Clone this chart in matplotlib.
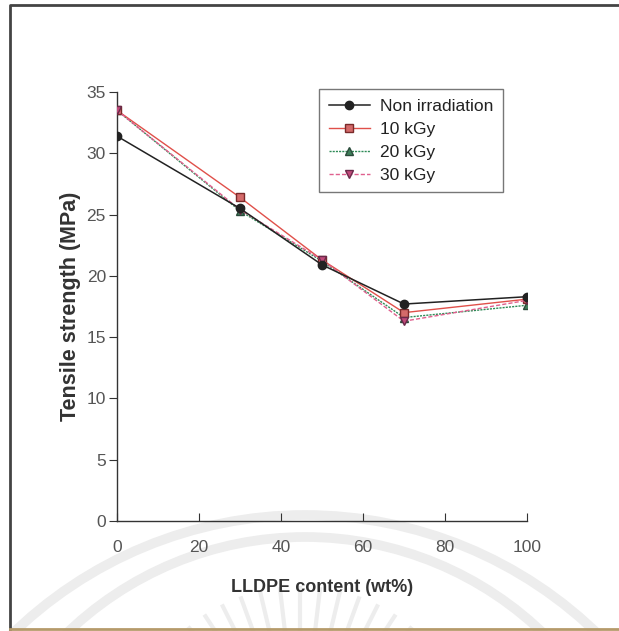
import numpy as np
import matplotlib
matplotlib.use("Agg")
import matplotlib.pyplot as plt
from matplotlib.patches import Arc
from matplotlib.lines import Line2D

plt.rcParams['font.family'] = ['Liberation Sans', 'DejaVu Sans']

# LLDPE content (wt%)
lldpe = [0, 30, 50, 70, 100]

# Tensile strength (MPa)
non_irr = [31.4, 25.5, 20.9, 17.7, 18.3]
kgy10 = [33.5, 26.4, 21.3, 17.0, 18.1]
kgy20 = [33.5, 25.3, 21.2, 16.6, 17.6]
kgy30 = [33.5, 25.4, 21.3, 16.3, 18.0]

series_labels = ["Non irradiation", "10 kGy", "20 kGy", "30 kGy"]
x_ticks = [0, 20, 40, 60, 80, 100]
y_ticks = [0, 5, 10, 15, 20, 25, 30, 35]

W, H = 619, 631
fig = plt.figure(figsize=(W / 100, H / 100), dpi=100)
fig.patch.set_facecolor('white')

# faint background emblem
wm = '#ededed'
for (cx, cy, r) in [(305, 935, 420), (305, 880, 343)]:
    fig.add_artist(Arc((cx / W, 1 - cy / H), 2 * r / W, 2 * r / H,
                       theta1=0, theta2=180, transform=fig.transFigure,
                       color=wm, lw=7, zorder=0))
for ang in np.linspace(50, 130, 13):
    a = np.radians(ang)
    cx, cy = 300, 760
    r0, r1 = 120, 172
    xs = [cx + r0 * np.cos(a), cx + r1 * np.cos(a)]
    ys = [cy - r0 * np.sin(a), cy - r1 * np.sin(a)]
    fig.add_artist(Line2D([x / W for x in xs], [1 - y / H for y in ys],
                          transform=fig.transFigure, color=wm, lw=3, zorder=0))

# outer page frame
fig.add_artist(Line2D([10 / W, 10 / W, 1.0], [1 - 629 / H, 1 - 5 / H, 1 - 5 / H],
                      transform=fig.transFigure, color='#444444', lw=2.0, zorder=1))
fig.add_artist(Line2D([10 / W, 1.0], [1 - 629 / H, 1 - 629 / H],
                      transform=fig.transFigure, color='#b59a6a', lw=2.0, zorder=1))

ax = fig.add_axes([117 / W, 1 - 521 / H, (527 - 117) / W, (521 - 92) / H])
ax.set_facecolor('none')

ax.plot(lldpe, non_irr, color='#222222', lw=1.1, marker='o', ms=6,
        mfc='#222222', mec='#222222', label=series_labels[0], zorder=5)
ax.plot(lldpe, kgy10, color='#e0504a', lw=1.0, marker='s', ms=6,
        mfc='#d46a6a', mec='#7a2a2a', label=series_labels[1], zorder=4)
ax.plot(lldpe, kgy20, color='#2e8b57', lw=1.0, ls=(0, (1.5, 0.8)), marker='^', ms=6,
        mfc='#3f7f5a', mec='#2a4a3a', label=series_labels[2], zorder=3)
ax.plot(lldpe, kgy30, color='#e0608e', lw=1.0, ls=(0, (3, 1.5)), marker='v', ms=6,
        mfc='#c04a7a', mec='#6a2a4a', label=series_labels[3], zorder=4)

ax.set_xlim(0, 100)
ax.set_ylim(0, 35)
ax.set_xticks(x_ticks)
ax.set_yticks(y_ticks)
ax.spines['top'].set_visible(False)
ax.spines['right'].set_visible(False)
for s in ('left', 'bottom'):
    ax.spines[s].set_color('#333333')
    ax.spines[s].set_linewidth(1.0)
ax.tick_params(axis='x', direction='in', length=6, pad=14, colors='#333333',
               labelcolor='#555555', labelsize=12.5)
ax.tick_params(axis='y', direction='out', length=5.5, pad=2.5, colors='#333333',
               labelcolor='#555555', labelsize=12.5)

ax.set_xlabel('LLDPE content (wt%)', fontsize=13, fontweight='bold',
              color='#333333', labelpad=17)
ax.set_ylabel('Tensile strength (MPa)', fontsize=15.5, fontweight='bold',
              color='#333333', labelpad=4)

leg = ax.legend(loc='upper left', bbox_to_anchor=((319 - 117) / 410, 1 - (89 - 92) / 429),
                frameon=True, fancybox=False, fontsize=12.5, handlelength=2.4,
                handletextpad=0.55, labelspacing=0.45, borderpad=0.55,
                borderaxespad=0)
leg.get_frame().set_edgecolor('#555555')
leg.get_frame().set_linewidth(1.0)
for t in leg.get_texts():
    t.set_color('#222222')

fig.savefig('out.png', dpi=100, facecolor='white')
